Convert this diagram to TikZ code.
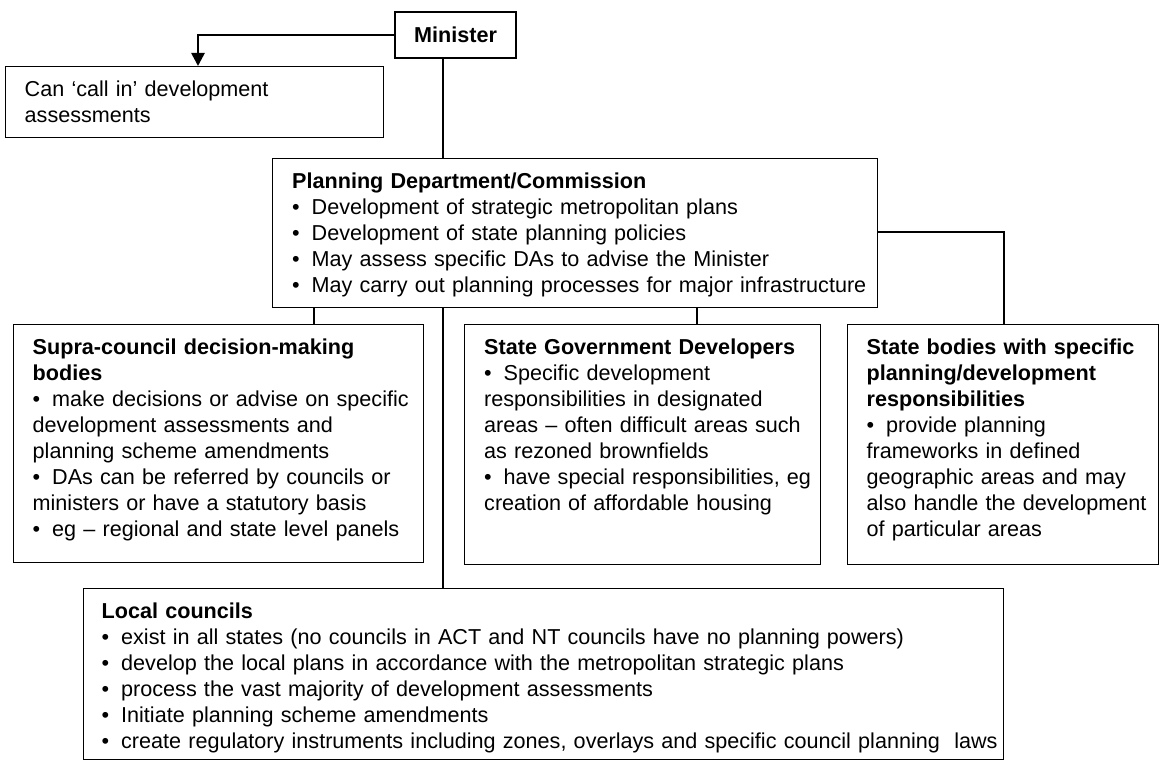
\documentclass[tikz,border=0pt]{standalone}
\usepackage{fontspec}
\setmainfont{Liberation Sans}
\usetikzlibrary{arrows.meta}
\newcommand{\bodyfont}{\fontsize{21.6}{26}\selectfont}
\newcommand{\bul}{\makebox[19.5pt][l]{•}}
\begin{document}
\begin{tikzpicture}[x=1pt,y=-1pt,
  panel/.style={draw, line width=1.4pt, inner sep=0pt, anchor=north west},
  panetext/.style={anchor=north west, inner sep=0pt, align=left, text width=#1, font=\bodyfont},
  link/.style={draw, line width=1.4pt},
  callarrow/.style={draw, line width=2.6pt, -{Triangle[width=13pt,length=13pt]}}]
\path[use as bounding box, clip] (0,0) rectangle (1159,760);
\fill[white] (0,0) rectangle (1159,760);

% frames of the organisations
\node[panel, anchor=center, minimum width=121pt, minimum height=46pt, font=\bodyfont\bfseries] (minister) at (455.5,35) {Minister};
\node[panel, minimum width=378pt, minimum height=71pt] (callin) at (5,66) {};
\node[panel, minimum width=605pt, minimum height=149pt] (plan) at (272,158) {};
\node[panel, minimum width=410pt, minimum height=238pt] (supra) at (13,324) {};
\node[panel, minimum width=356pt, minimum height=240pt] (devs) at (464,324) {};
\node[panel, minimum width=311pt, minimum height=240pt] (statebod) at (847,324) {};
\node[panel, minimum width=920pt, minimum height=171pt] (councils) at (83,588) {};

% texts inside the frames
\node[panetext=560pt] (callin-t) at ([shift={(19.5,11.8)}]callin.north west)
  {\strut Can ‘call in’ development\\assessments};
\node[panetext=600pt] (plan-t) at ([shift={(20,11.8)}]plan.north west)
  {\strut\textbf{Planning Department/Commission}\\
   \bul Development of strategic metropolitan plans\\
   \bul Development of state planning policies\\
   \bul May assess specific DAs to advise the Minister\\
   \bul May carry out planning processes for major infrastructure};
\node[panetext=400pt] (supra-t) at ([shift={(19.5,11.8)}]supra.north west)
  {\strut\textbf{Supra-council decision-making}\\
   \textbf{bodies}\\
   \bul make decisions or advise on specific\\
   development assessments and\\
   planning scheme amendments\\
   \bul DAs can be referred by councils or\\
   ministers or have a statutory basis\\
   \bul eg – regional and state level panels};
\node[panetext=400pt] (devs-t) at ([shift={(20,11.8)}]devs.north west)
  {\strut\textbf{State Government Developers}\\
   \bul Specific development\\
   responsibilities in designated\\
   areas – often difficult areas such\\
   as rezoned brownfields\\
   \bul have special responsibilities, eg\\
   creation of affordable housing};
\node[panetext=400pt] (statebod-t) at ([shift={(19.5,11.8)}]statebod.north west)
  {\strut\textbf{State bodies with specific}\\
   \textbf{planning/development}\\
   \textbf{responsibilities}\\
   \bul provide planning\\
   frameworks in defined\\
   geographic areas and may\\
   also handle the development\\
   of particular areas};
\node[panetext=1000pt] (councils-t) at ([shift={(18.5,11.8)}]councils.north west)
  {\strut\textbf{Local councils}\\
   \bul exist in all states (no councils in ACT and NT councils have no planning powers)\\
   \bul develop the local plans in accordance with the metropolitan strategic plans\\
   \bul process the vast majority of development assessments\\
   \bul Initiate planning scheme amendments\\
   \bul create regulatory instruments including zones, overlays and specific council planning\ \ laws};

% connectors
\coordinate (trunk) at (443,0);
\coordinate (calltip) at (198,66);
\coordinate (sbjoint) at (1004,232);
\coordinate (supraX) at (314,0);
\coordinate (devsX) at (697,0);

\draw[callarrow] (minister.west) -| (calltip);
\draw[link] (minister.south -| trunk) -- (plan.north -| trunk);
\draw[link] (plan.east |- sbjoint) -- (sbjoint) -- (statebod.north -| sbjoint);
\draw[link] (plan.south -| supraX) -- (supra.north -| supraX);
\draw[link] (plan.south -| devsX) -- (devs.north -| devsX);
\draw[link] (plan.south -| trunk) -- (councils.north -| trunk);
\end{tikzpicture}
\end{document}
